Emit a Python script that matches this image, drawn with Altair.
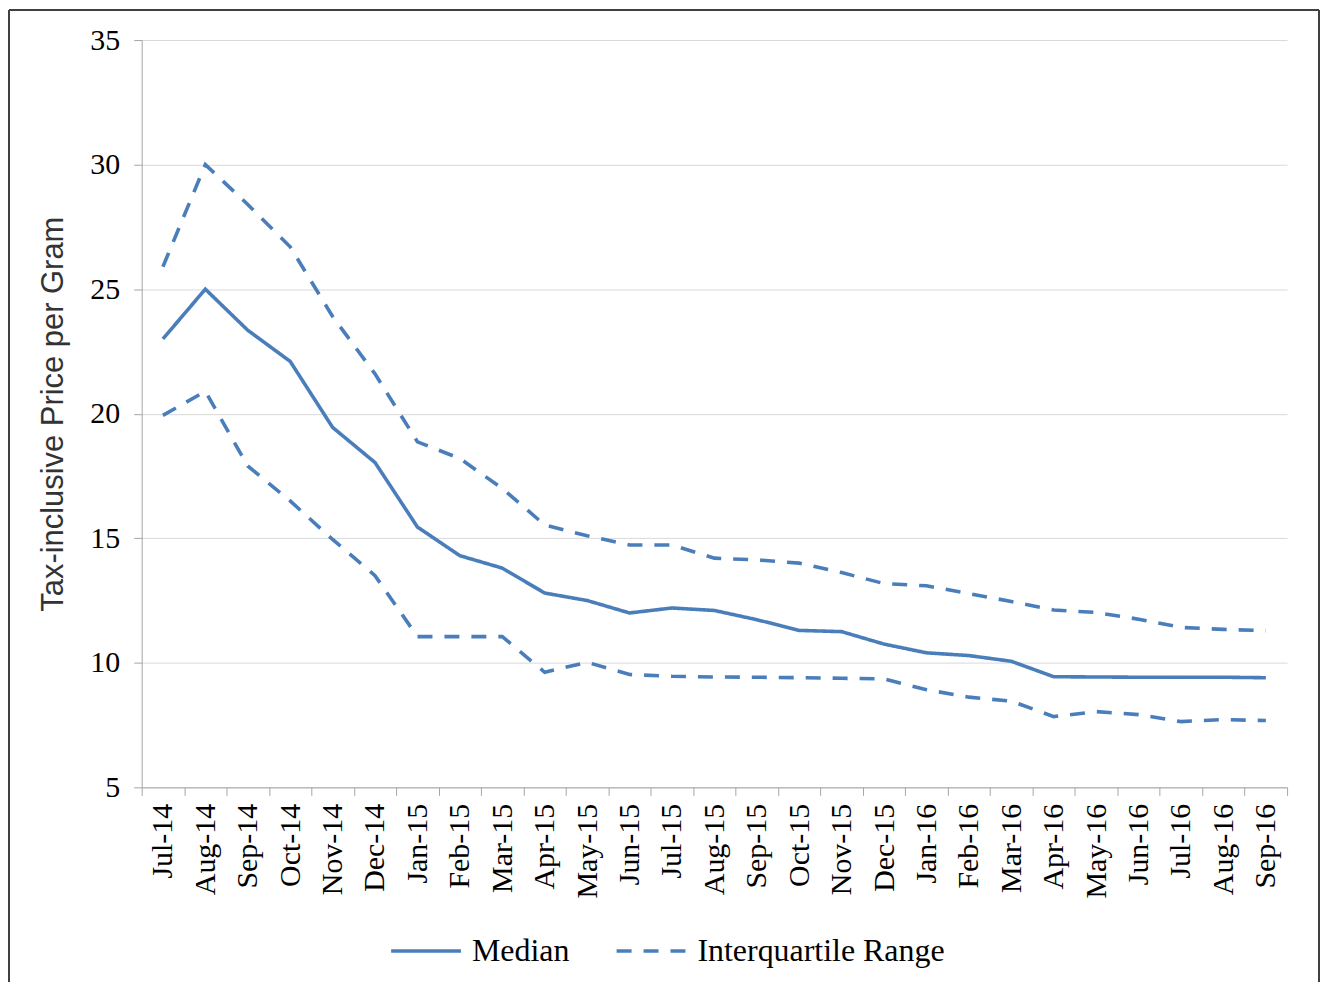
import altair as alt
import pandas as pd

months = ["Jul-14", "Aug-14", "Sep-14", "Oct-14", "Nov-14", "Dec-14", "Jan-15", "Feb-15",
          "Mar-15", "Apr-15", "May-15", "Jun-15", "Jul-15", "Aug-15", "Sep-15", "Oct-15",
          "Nov-15", "Dec-15", "Jan-16", "Feb-16", "Mar-16", "Apr-16", "May-16", "Jun-16",
          "Jul-16", "Aug-16", "Sep-16"]

median = [23.0, 25.0, 23.35, 22.1, 19.45, 18.04, 15.45, 14.3, 13.8, 12.8, 12.5, 12.0,
          12.2, 12.1, 11.73, 11.3, 11.25, 10.75, 10.4, 10.29, 10.06, 9.44, 9.43, 9.42,
          9.42, 9.42, 9.4]

p75 = [25.9, 30.0, 28.4, 26.7, 23.9, 21.6, 18.87, 18.2, 17.0, 15.53, 15.1, 14.73,
       14.73, 14.2, 14.13, 14.0, 13.62, 13.18, 13.09, 12.78, 12.46, 12.12, 12.02, 11.75,
       11.42, 11.34, 11.29]

p25 = [19.93, 20.9, 17.9, 16.5, 14.95, 13.5, 11.05, 11.05, 11.05, 9.62, 10.02, 9.53,
       9.46, 9.43, 9.42, 9.40, 9.38, 9.35, 8.92, 8.62, 8.46, 7.84, 8.04, 7.92,
       7.64, 7.72, 7.68]

y_ticks = [5, 10, 15, 20, 25, 30, 35]
kinds = ["Median", "Interquartile Range"]

rows = []
for i, (m, a, b, c) in enumerate(zip(months, median, p75, p25)):
    rows.append({"idx": i, "month": m, "value": a, "series": "median", "kind": "Median"})
    rows.append({"idx": i, "month": m, "value": b, "series": "p75", "kind": "Interquartile Range"})
    rows.append({"idx": i, "month": m, "value": c, "series": "p25", "kind": "Interquartile Range"})
df = pd.DataFrame(rows)

BLUE = "#4A7EBB"
AXIS_GRAY = "#a6a6a6"
W, H = 1148, 749

lines = alt.Chart(df).mark_line(color=BLUE, strokeWidth=3.6, strokeCap="butt").encode(
    x=alt.X("month:N", sort=months, bandPosition=0.5,
            scale=alt.Scale(type="band", paddingInner=0, paddingOuter=0),
            axis=alt.Axis(title=None, labelAngle=-90, labelFont="Liberation Serif",
                          labelFontSize=30, labelColor="black", labelPadding=8,
                          tickBand="extent", tickSize=8, tickColor=AXIS_GRAY,
                          domainColor=AXIS_GRAY, grid=False, labelOverlap=False)),
    y=alt.Y("value:Q", scale=alt.Scale(domain=[5, 35], nice=False, zero=False),
            axis=alt.Axis(values=y_ticks, title="Tax-inclusive Price per Gram",
                          titleFont="Liberation Sans", titleFontSize=31,
                          titleFontWeight="normal", titleColor="#333333", titlePadding=20,
                          labelFont="Liberation Serif", labelFontSize=30, labelColor="black",
                          labelPadding=14, tickSize=8, tickColor=AXIS_GRAY,
                          domainColor=AXIS_GRAY, gridColor="#d9d9d9", grid=True)),
    strokeDash=alt.StrokeDash("kind:N",
                              scale=alt.Scale(domain=kinds, range=[[1, 0], [15, 12]]),
                              legend=alt.Legend(title=None, orient="none", legendX=248,
                                                legendY=876, direction="horizontal",
                                                symbolType="stroke", symbolSize=4900,
                                                symbolStrokeWidth=3.6,
                                                symbolStrokeColor=BLUE,
                                                labelFont="Liberation Serif",
                                                labelFontSize=32, labelColor="black",
                                                labelLimit=0,
                                                labelOffset=9, columnPadding=39,
                                                padding=0)),
    detail="series:N",
    order=alt.Order("idx:Q"),
)

frame_df = pd.DataFrame({"k": [0]})
FRAME = "#404040"
top = alt.Chart(frame_df).mark_rule(color=FRAME, strokeWidth=2).encode(
    x=alt.value(-133), x2=alt.value(1180), y=alt.value(-30))
left = alt.Chart(frame_df).mark_rule(color=FRAME, strokeWidth=2).encode(
    x=alt.value(-133), y=alt.value(-30), y2=alt.value(944))
right = alt.Chart(frame_df).mark_rule(color=FRAME, strokeWidth=2).encode(
    x=alt.value(1180), y=alt.value(-30), y2=alt.value(944))

chart = alt.layer(lines, top, left, right).properties(
    width=W, height=H, padding=0, background="white"
).configure_view(stroke="transparent")

chart.save("out.html", embed_options={"renderer": "svg", "actions": False})
